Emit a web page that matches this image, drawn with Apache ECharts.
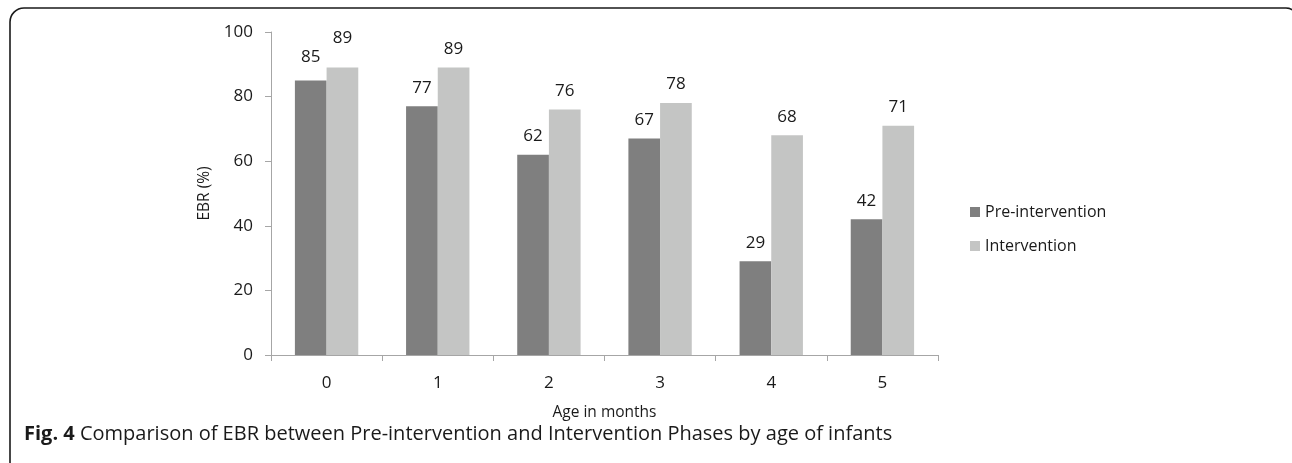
<!DOCTYPE html>
<html>
<head>
<meta charset="utf-8">
<script src="https://cdn.jsdelivr.net/npm/echarts@6/dist/echarts.min.js"></script>
<style>
  html, body { margin: 0; padding: 0; background: #fff; }
  #chart { width: 1292px; height: 463px; }
</style>
</head>
<body>
<div id="chart"></div>
<script>
// Age groups (months) on the x axis
const ages = ['0', '1', '2', '3', '4', '5'];
// Exclusive breastfeeding rate (%) per phase
const preIntervention = [85, 77, 62, 67, 29, 42];
const intervention = [89, 89, 76, 78, 68, 71];
const seriesNames = ['Pre-intervention', 'Intervention'];
const yTicks = [0, 20, 40, 60, 80, 100];

const FONT = '"Open Sans", "Noto Sans", sans-serif';
const TEXT = '#1a1a1a';
const AXIS = '#a6a6a6';

// The first group's labels sit a little higher than the rest
const preLabelLift = [5, 0, 0, 0, 0, 0];
const intLabelLift = [11, 0, 0, 0, 0, 0];

function withLabels(values, lifts) {
  return values.map((v, i) => ({
    value: v,
    label: { distance: 10 + lifts[i] }
  }));
}

const chart = echarts.init(document.getElementById('chart'), null, { renderer: 'canvas' });

chart.setOption({
  animation: false,
  backgroundColor: '#fff',
  textStyle: { fontFamily: FONT },
  grid: { left: 271, right: 354, top: 32, bottom: 108, containLabel: false },
  legend: {
    orient: 'vertical',
    left: 970,
    top: 204,
    padding: 0,
    itemWidth: 10,
    itemHeight: 10,
    itemGap: 18,
    icon: 'rect',
    textStyle: { fontFamily: FONT, fontSize: 16, lineHeight: 16, color: TEXT },
    data: seriesNames
  },
  xAxis: {
    type: 'category',
    data: ages,
    name: 'Age in months',
    nameLocation: 'middle',
    nameGap: 50,
    nameTextStyle: { fontFamily: FONT, fontSize: 15.5, color: TEXT },
    axisLine: { lineStyle: { color: AXIS, width: 1 } },
    axisTick: { show: true, length: 6, lineStyle: { color: AXIS } },
    axisLabel: { fontFamily: FONT, fontSize: 17, color: TEXT, margin: 20 },
    splitLine: { show: false }
  },
  yAxis: {
    type: 'value',
    min: yTicks[0],
    max: yTicks[yTicks.length - 1],
    interval: 20,
    name: 'EBR (%)',
    nameLocation: 'middle',
    nameGap: 54,
    nameRotate: 90,
    nameTextStyle: { fontFamily: FONT, fontSize: 15.5, color: TEXT },
    axisLine: { show: true, lineStyle: { color: AXIS, width: 1 } },
    axisTick: { show: true, length: 6, lineStyle: { color: AXIS } },
    axisLabel: { fontFamily: FONT, fontSize: 17, color: TEXT, margin: 18 },
    splitLine: { show: false }
  },
  series: [
    {
      name: seriesNames[0],
      type: 'bar',
      data: withLabels(preIntervention, preLabelLift),
      barGap: '0%',
      barCategoryGap: '43%',
      itemStyle: { color: '#7f7f7f' },
      label: { show: true, position: 'top', fontFamily: FONT, fontSize: 17, color: TEXT }
    },
    {
      name: seriesNames[1],
      type: 'bar',
      data: withLabels(intervention, intLabelLift),
      barGap: '0%',
      barCategoryGap: '43%',
      itemStyle: { color: '#c4c5c4' },
      label: { show: true, position: 'top', fontFamily: FONT, fontSize: 17, color: TEXT }
    }
  ],
  graphic: [
    {
      // figure frame: left and top edges, corners rounded
      type: 'rect',
      shape: { x: 10, y: 8, width: 1288, height: 464, r: [14, 12, 0, 10] },
      style: { fill: null, stroke: '#1a1a1a', lineWidth: 1.6 },
      silent: true,
      z: -10
    },
    {
      type: 'text',
      left: 24,
      top: 424,
      style: {
        text: '{b|Fig. 4} Comparison of EBR between Pre-intervention and Intervention Phases by age of infants',
        font: '20px ' + FONT,
        fill: '#1a1a1a',
        rich: {
          b: { fontFamily: FONT, fontSize: 20, fontWeight: 'bold', fill: '#1a1a1a' }
        }
      },
      silent: true
    }
  ]
});
</script>
</body>
</html>
